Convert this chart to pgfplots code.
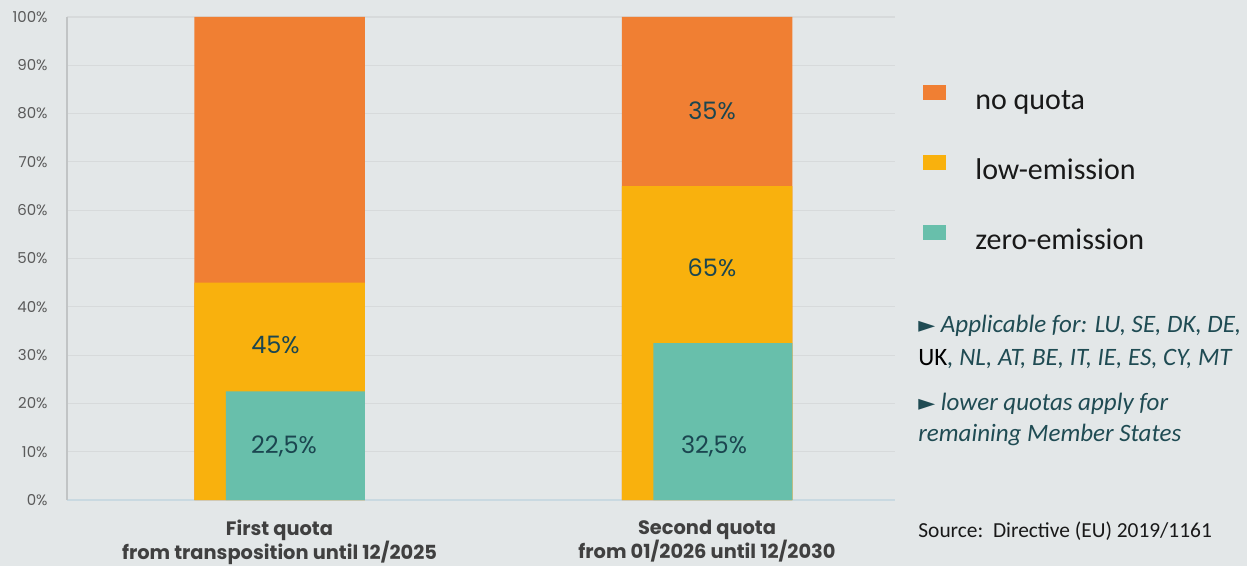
\documentclass[border=0pt]{standalone}
\usepackage{pgfplots}
\pgfplotsset{compat=1.18}
\usepackage{fontspec}
\setmainfont{Carlito}
\newfontfamily\gothic{Poppins}
\newfontfamily\dejavu{DejaVu Sans}

\definecolor{bg}{HTML}{E3E7E8}
\definecolor{gridc}{HTML}{D7DADB}
\definecolor{noquota}{HTML}{F07F33}
\definecolor{lowem}{HTML}{F9B10D}
\definecolor{zeroem}{HTML}{68BFAB}
\definecolor{pcttext}{HTML}{1B4650}
\definecolor{notetext}{HTML}{1F4B53}
\definecolor{ticktext}{HTML}{5A5A5A}
\definecolor{cattext}{HTML}{404040}

\begin{document}
\begin{tikzpicture}[x=0.5pt,y=-0.5pt]
\path[use as bounding box, fill=bg] (0,0) rectangle (1247,566);

\begin{axis}[
    at={(33.5pt,-250pt)}, anchor=south west,
    scale only axis, width=414pt, height=241.5pt,
    xmin=0, xmax=828, ymin=0, ymax=100,
    axis x line*=bottom, axis y line*=left,
    x axis line style={-, draw=cyan!10!gridc, line width=0.6pt},
    y axis line style={-, draw=gridc!90!black, line width=0.8pt},
    major tick length=0pt,
    ytick={0,10,...,100},
    ymajorgrids, grid style={gridc, line width=0.6pt},
    yticklabel={\pgfmathprintnumber{\tick}\%},
    /pgf/number format/assume math mode=true,
    yticklabel style={font=\gothic\fontsize{7.5}{9}\selectfont, text=ticktext,
        anchor=east, inner sep=0pt, xshift=-9.5pt},
    xtick={212.5,640},
    xticklabels={{First quota\\from transposition until 12/2025},
                 {Second quota\\from 01/2026 until 12/2030}},
    xticklabel style={font=\gothic\bfseries\fontsize{9.7}{12}\selectfont, text=cattext,
        align=center, anchor=north, inner sep=0pt, yshift=-10pt},
    legend style={at={(axis description cs:1.0338,0.86)}, anchor=north west,
        draw=none, fill=none, inner sep=0pt, row sep=19.8pt, column sep=14.5pt,
        font=\fontsize{15}{18}\selectfont, text=black!90,
        nodes={inner sep=0pt, text height=10pt, text depth=3pt}},
    legend cell align=left,
    legend image code/.code={\path[#1] (0pt,1.25pt) rectangle (11.5pt,8.75pt);},
]
% full bars (no quota share fills up to 100 %)
\addplot[ybar, bar width=170.5, bar shift=0, fill=noquota, draw=none]
    coordinates {(212.5,100) (640,100)};
\addlegendentry{no quota}
% low-emission quota
\addplot[ybar, bar width=170.5, bar shift=0, fill=lowem, draw=none]
    coordinates {(212.5,45) (640,65)};
\addlegendentry{low-emission}
% zero-emission quota, narrower and shifted right
\addplot[ybar, bar width=139, bar shift=15.75, fill=zeroem, draw=none]
    coordinates {(212.5,22.5) (640,32.5)};
\addlegendentry{zero-emission}

\begin{scope}[every node/.style={font=\gothic\fontsize{12}{14}\selectfont, text=pcttext}]
\node at (axis cs:208.5,32) {45\%};
\node at (axis cs:217,11) {22,5\%};
\node at (axis cs:645,80.5) {35\%};
\node at (axis cs:645,48) {65\%};
\node at (axis cs:647,11.2) {32,5\%};
\end{scope}
\end{axis}

\begin{scope}[every node/.style={anchor=base west, inner sep=0pt, font=\fontsize{12.5}{14}\selectfont}]
\node[text=notetext] at (918,333) {{\dejavu\fontsize{11}{12}\selectfont ►} \textit{Applicable for: LU, SE, DK, DE,}};
\node at (918,366) {\textcolor{black}{UK}\textcolor{notetext}{\textit{, NL, AT, BE, IT, IE, ES, CY, MT}}};
\node[text=notetext] at (918,411) {{\dejavu\fontsize{11}{12}\selectfont ►} \textit{lower quotas apply for}};
\node[text=notetext] at (918,441) {\textit{remaining Member States}};
\node[text=black!90, font=\fontsize{10.7}{13}\selectfont] at (918,537) {Source:\ \ Directive (EU) 2019/1161};
\end{scope}
\end{tikzpicture}
\end{document}
